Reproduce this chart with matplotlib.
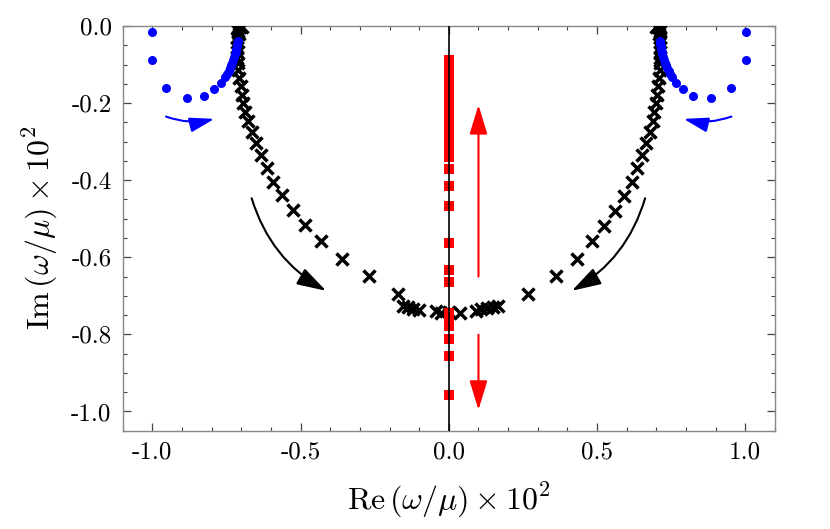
import matplotlib
matplotlib.use("Agg")
import matplotlib.pyplot as plt
from matplotlib.ticker import FixedLocator, MultipleLocator

plt.rcParams["mathtext.fontset"] = "cm"
plt.rcParams["font.family"] = ["cmr10", "DejaVu Sans"]
plt.rcParams["axes.unicode_minus"] = False

# blue dots (left and right groups)
blue_l_re = [-1.002, -1.002, -0.954, -0.883, -0.826, -0.791, -0.767, -0.754,
             -0.748, -0.743, -0.739, -0.735, -0.731, -0.727, -0.724, -0.721,
             -0.719, -0.717, -0.715, -0.713, -0.712]
blue_l_im = [-0.016, -0.088, -0.160, -0.187, -0.181, -0.164, -0.148, -0.132,
             -0.124, -0.116, -0.109, -0.102, -0.095, -0.088, -0.081, -0.074,
             -0.067, -0.060, -0.053, -0.046, -0.039]
blue_r_re = [1.002, 1.002, 0.952, 0.883, 0.825, 0.790, 0.766, 0.752,
             0.746, 0.741, 0.737, 0.733, 0.729, 0.726, 0.723, 0.720,
             0.718, 0.716, 0.714, 0.713, 0.712]
blue_r_im = [-0.016, -0.088, -0.160, -0.187, -0.181, -0.164, -0.148, -0.132,
             -0.124, -0.116, -0.109, -0.102, -0.095, -0.088, -0.081, -0.074,
             -0.067, -0.060, -0.053, -0.046, -0.039]

# black crosses, left branch then right branch
cross_l_re = [-0.712, -0.704, -0.699, -0.712, -0.709, -0.713, -0.712, -0.713,
              -0.713, -0.713, -0.712, -0.710, -0.706, -0.702, -0.697, -0.693,
              -0.687, -0.678, -0.665, -0.651, -0.633, -0.614, -0.592, -0.562,
              -0.526, -0.485, -0.432, -0.361, -0.268, -0.170, -0.154, -0.136,
              -0.120, -0.099, -0.043, -0.026]
cross_l_im = [-0.002, -0.003, -0.002, -0.012, -0.020, -0.030, -0.042, -0.055,
              -0.068, -0.082, -0.097, -0.114, -0.136, -0.157, -0.179, -0.200,
              -0.222, -0.246, -0.274, -0.303, -0.334, -0.369, -0.406, -0.439,
              -0.478, -0.516, -0.559, -0.604, -0.648, -0.695, -0.726, -0.730,
              -0.735, -0.736, -0.739, -0.745]
cross_c_re = [0.0]
cross_c_im = [-0.741]
cross_r_re = [0.712, 0.704, 0.699, 0.711, 0.709, 0.712, 0.712, 0.713,
              0.713, 0.712, 0.711, 0.711, 0.710, 0.706, 0.703, 0.698,
              0.693, 0.687, 0.679, 0.665, 0.653, 0.634, 0.617, 0.592,
              0.561, 0.522, 0.484, 0.432, 0.362, 0.267, 0.167, 0.150,
              0.128, 0.110, 0.091, 0.038]
cross_r_im = [-0.002, -0.003, -0.002, -0.012, -0.020, -0.030, -0.042, -0.055,
              -0.068, -0.082, -0.097, -0.114, -0.136, -0.157, -0.179, -0.200,
              -0.222, -0.246, -0.274, -0.303, -0.334, -0.369, -0.406, -0.440,
              -0.480, -0.519, -0.559, -0.604, -0.648, -0.696, -0.726, -0.729,
              -0.732, -0.735, -0.739, -0.745]

# red squares on the imaginary axis
red_im = [-0.088, -0.096, -0.104, -0.112, -0.120, -0.128, -0.136, -0.144,
          -0.152, -0.160, -0.168, -0.176, -0.184, -0.192, -0.200, -0.208,
          -0.216, -0.224, -0.232, -0.240, -0.248, -0.256, -0.264, -0.272,
          -0.280, -0.288, -0.296, -0.304, -0.312, -0.320, -0.326,
          -0.340, -0.372, -0.414, -0.468, -0.563, -0.633, -0.665,
          -0.745, -0.760, -0.778, -0.811, -0.855, -0.958]
red_re = [0.0] * len(red_im)

xticks = [-1.0, -0.5, 0.0, 0.5, 1.0]
xticklabels = ["-1.0", "-0.5", "0.0", "0.5", "1.0"]
yticks = [-1.0, -0.8, -0.6, -0.4, -0.2, 0.0]
yticklabels = ["-1.0", "-0.8", "-0.6", "-0.4", "-0.2", "0.0"]

fig = plt.figure(figsize=(8.3, 5.29), dpi=100)
ax = fig.add_axes([0.1478, 0.1858, 0.7859, 0.7651])

ax.axvline(0, color="black", lw=1.2, zorder=5)

for xs, ys in [(cross_l_re, cross_l_im), (cross_r_re, cross_r_im), (cross_c_re, cross_c_im)]:
    ax.plot(xs, ys, "x", color="black", ms=8.5, mew=2.5, zorder=3)
ax.plot(red_re, red_im, "s", color="red", ms=7, mew=0, zorder=4)
ax.plot(blue_l_re, blue_l_im, "o", color="blue", ms=6.5, mew=0, zorder=4)
ax.plot(blue_r_re, blue_r_im, "o", color="blue", ms=6.5, mew=0, zorder=4)

def arrow(start, end, color, rad, hl=1.8, hw=0.55):
    ax.annotate("", xy=end, xytext=start,
                arrowprops=dict(arrowstyle=f"-|>,head_length={hl},head_width={hw}",
                                mutation_scale=10, color=color, lw=1.5,
                                shrinkA=0, shrinkB=0,
                                connectionstyle=f"arc3,rad={rad}"),
                zorder=6)

arrow((-0.954, -0.235), (-0.791, -0.241), "blue", 0.15, 1.5, 0.45)
arrow((0.953, -0.235), (0.792, -0.241), "blue", -0.15, 1.5, 0.45)
arrow((-0.665, -0.447), (-0.414, -0.687), "black", 0.2)
arrow((0.662, -0.447), (0.415, -0.687), "black", -0.2)
arrow((0.1, -0.650), (0.1, -0.205), "red", 0.0)
arrow((0.1, -0.801), (0.1, -0.996), "red", 0.0)

ax.set_xlim(-1.1, 1.1)
ax.set_ylim(-1.05, 0.0)
ax.xaxis.set_major_locator(FixedLocator(xticks))
ax.set_xticklabels(xticklabels)
ax.yaxis.set_major_locator(FixedLocator(yticks))
ax.set_yticklabels(yticklabels)
ax.xaxis.set_minor_locator(MultipleLocator(0.1))
ax.yaxis.set_minor_locator(MultipleLocator(0.05))
ax.tick_params(which="both", direction="in", top=True, right=True,
               color="#444444", labelsize=18, pad=8)
ax.tick_params(which="major", length=6, width=0.9)
ax.tick_params(which="minor", length=3, width=0.8)
for s in ax.spines.values():
    s.set_color("#888888")
    s.set_linewidth(1.0)

ax.set_xlabel(r"$\mathrm{Re}\,(\omega/\mu)\times 10^2$", fontsize=23, labelpad=12)
ax.set_ylabel(r"$\mathrm{Im}\,(\omega/\mu)\times 10^2$", fontsize=23, labelpad=8)

fig.savefig("out.png", dpi=100)
